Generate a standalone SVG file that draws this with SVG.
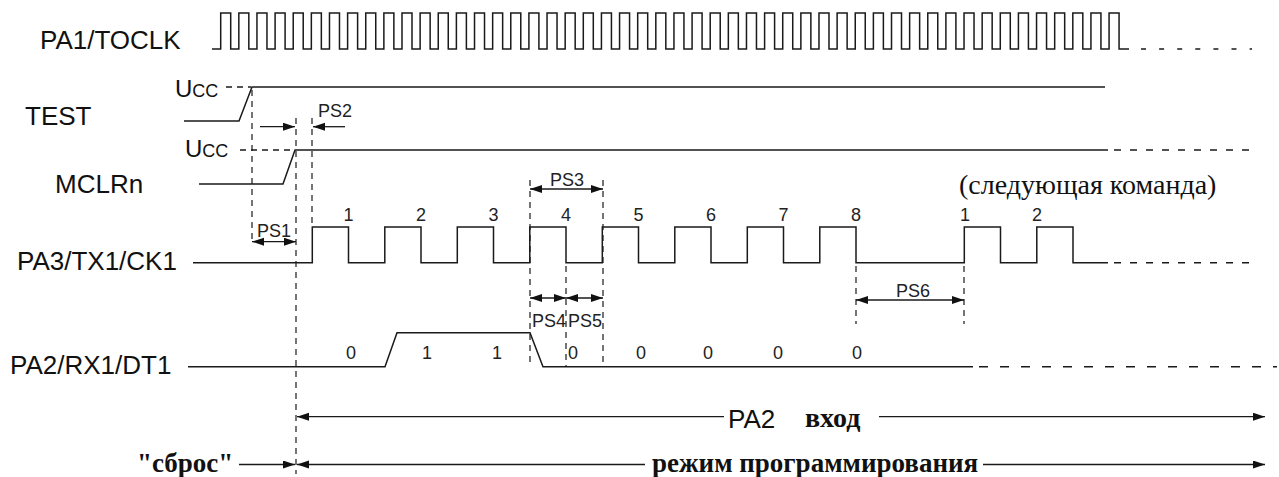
<svg xmlns="http://www.w3.org/2000/svg" width="1279" height="477" viewBox="0 0 1279 477">
<style>
.sig{fill:none;stroke:#1a1a1a;stroke-width:1.5}
.dash{fill:none;stroke:#1a1a1a;stroke-width:1.3;stroke-dasharray:6,5}
.vd{fill:none;stroke:#1a1a1a;stroke-width:1.2;stroke-dasharray:6,5}
.dim{fill:none;stroke:#1a1a1a;stroke-width:1.3}
.lbl{font-family:"Liberation Sans",Arial,sans-serif;font-size:26px;fill:#111}
.sm{font-family:"Liberation Sans",Arial,sans-serif;font-size:18px;fill:#222}
.ser{font-family:"Liberation Serif","Times New Roman",serif;font-size:28px;fill:#111}
.serb{font-family:"Liberation Serif","Times New Roman",serif;font-size:27px;font-weight:bold;fill:#111}
</style>
<defs>
<marker id="ah" markerUnits="userSpaceOnUse" markerWidth="13" markerHeight="9" refX="12" refY="4" orient="auto-start-reverse">
<path d="M0,0 L12,4 L0,8 z" fill="#111"/>
</marker>
</defs>
<rect width="1279" height="477" fill="#fff"/>

<g id="pa1">
<text class="lbl" x="40" y="49">PA1/TOCLK</text>
<path class="sig" d="M212,49 H220.7 v-36h10v36h8.13 v-36h10v36h8.13 v-36h10v36h8.13 v-36h10v36h8.13 v-36h10v36h8.13 v-36h10v36h8.13 v-36h10v36h8.13 v-36h10v36h8.13 v-36h10v36h8.13 v-36h10v36h8.13 v-36h10v36h8.13 v-36h10v36h8.13 v-36h10v36h8.13 v-36h10v36h8.13 v-36h10v36h8.13 v-36h10v36h8.13 v-36h10v36h8.13 v-36h10v36h8.13 v-36h10v36h8.13 v-36h10v36h8.13 v-36h10v36h8.13 v-36h10v36h8.13 v-36h10v36h8.13 v-36h10v36h8.13 v-36h10v36h8.13 v-36h10v36h8.13 v-36h10v36h8.13 v-36h10v36h8.13 v-36h10v36h8.13 v-36h10v36h8.13 v-36h10v36h8.13 v-36h10v36h8.13 v-36h10v36h8.13 v-36h10v36h8.13 v-36h10v36h8.13 v-36h10v36h8.13 v-36h10v36h8.13 v-36h10v36h8.13 v-36h10v36h8.13 v-36h10v36h8.13 v-36h10v36h8.13 v-36h10v36h8.13 v-36h10v36h8.13 v-36h10v36h8.13 v-36h10v36h8.13 v-36h10v36h8.13 v-36h10v36h8.13 v-36h10v36h8.13 v-36h10v36h8.13 v-36h10v36h8.13 H1129"/>
<line class="sig" x1="1141" y1="49" x2="1252" y2="49" style="stroke-dasharray:5,13.1"/>
</g>

<g id="test">
<text class="lbl" x="25" y="125">TEST</text>
<text class="lbl" x="175" y="97" style="font-size:24px">U<tspan style="font-size:18px">CC</tspan></text>
<line class="dash" x1="226" y1="87" x2="251" y2="87"/>
<polyline class="sig" points="184,121 239,121 252,87 1105,87"/>
</g>

<g id="mclrn">
<text class="lbl" x="55" y="193">MCLRn</text>
<text class="lbl" x="185" y="157" style="font-size:24px">U<tspan style="font-size:18px">CC</tspan></text>
<line class="dash" x1="240" y1="150" x2="293" y2="150"/>
<polyline class="sig" points="199,184 283,184 295,150 1108,150"/>
<line class="sig" x1="1114" y1="150" x2="1252" y2="150" style="stroke-dasharray:7,9"/>
</g>

<g id="pa3">
<text class="lbl" x="17" y="270">PA3/TX1/CK1</text>
<path class="sig" d="M193,262.7 H312.3 V227 H348.5 V262.7 H384.8 V227 H421 V262.7 H457.3 V227 H493.5 V262.7 H529.8 V227 H566 V262.7 H602.3 V227 H638.5 V262.7 H674.8 V227 H711 V262.7 H747.3 V227 H783.5 V262.7 H819.8 V227 H856 V262.7 H964.3 V227 H1000.5 V262.7 H1036.8 V227 H1073 V262.7 H1108"/>
<line class="sig" x1="1114" y1="262.7" x2="1258" y2="262.7" style="stroke-dasharray:7,9"/>
<g class="sm" text-anchor="middle">
<text x="348.5" y="221">1</text><text x="421" y="221">2</text><text x="493.5" y="221">3</text><text x="566" y="221">4</text>
<text x="638.5" y="221">5</text><text x="711" y="221">6</text><text x="783.5" y="221">7</text><text x="856" y="221">8</text>
<text x="965" y="221">1</text><text x="1037" y="221">2</text>
</g>
<text class="ser" x="959" y="194">(следующая команда)</text>
</g>

<g id="pa2">
<text class="lbl" x="10" y="374">PA2/RX1/DT1</text>
<polyline class="sig" points="188,366.7 385,366.7 397,332.7 530,332.7 543,366.7 973,366.7"/>
<line class="sig" x1="979" y1="366.7" x2="1277" y2="366.7" style="stroke-dasharray:9,12"/>
<g class="sm" text-anchor="middle">
<text x="351" y="359">0</text><text x="427" y="359">1</text><text x="497" y="359">1</text><text x="573" y="359">0</text>
<text x="641" y="359">0</text><text x="708" y="359">0</text><text x="778" y="359">0</text><text x="857" y="359">0</text>
</g>
</g>

<g id="connectors">
<line class="vd" x1="252" y1="90" x2="252" y2="240"/>
<line class="vd" x1="296" y1="118" x2="296" y2="474"/>
<line class="vd" x1="312" y1="118" x2="312" y2="226"/>
<line class="vd" x1="530" y1="180" x2="530" y2="367"/>
<line class="vd" x1="566" y1="266" x2="566" y2="367"/>
<line class="vd" x1="603" y1="180" x2="603" y2="367"/>
<line class="vd" x1="856" y1="266" x2="856" y2="324"/>
<line class="vd" x1="964" y1="266" x2="964" y2="324"/>

<line class="dim" x1="252" y1="241.7" x2="296" y2="241.7" marker-start="url(#ah)" marker-end="url(#ah)"/>
<line class="dim" x1="260" y1="126.7" x2="295" y2="126.7" marker-end="url(#ah)"/>
<line class="dim" x1="345" y1="126.7" x2="313" y2="126.7" marker-end="url(#ah)"/>
<line class="dim" x1="530" y1="189" x2="603" y2="189" marker-start="url(#ah)" marker-end="url(#ah)"/>
<line class="dim" x1="530" y1="298" x2="566" y2="298" marker-start="url(#ah)" marker-end="url(#ah)"/>
<line class="dim" x1="566" y1="298" x2="603" y2="298" marker-start="url(#ah)" marker-end="url(#ah)"/>
<line class="dim" x1="856" y1="300" x2="964" y2="300" marker-start="url(#ah)" marker-end="url(#ah)"/>

<line class="dim" x1="724" y1="416.7" x2="297" y2="416.7" marker-end="url(#ah)"/>
<line class="dim" x1="879" y1="416.7" x2="1265" y2="416.7" marker-end="url(#ah)"/>
<line class="dim" x1="239" y1="464.5" x2="295" y2="464.5" marker-end="url(#ah)"/>
<line class="dim" x1="645" y1="464.5" x2="297" y2="464.5" marker-end="url(#ah)"/>
<line class="dim" x1="983" y1="464.5" x2="1265" y2="464.5" marker-end="url(#ah)"/>
</g>

<g id="dim-labels" class="sm">
<text x="274" y="237" text-anchor="middle">PS1</text>
<text x="318" y="117">PS2</text>
<text x="567" y="186" text-anchor="middle">PS3</text>
<text x="549" y="327" text-anchor="middle">PS4</text>
<text x="585" y="327" text-anchor="middle">PS5</text>
<text x="913" y="297" text-anchor="middle">PS6</text>
</g>

<g id="modes">
<text class="lbl" x="728" y="428">PA2</text>
<text class="serb" x="805" y="427" style="font-size:28px">вход</text>
<text class="serb" x="137" y="472">"сброс"</text>
<text class="serb" x="652" y="472">режим программирования</text>
</g>
</svg>
